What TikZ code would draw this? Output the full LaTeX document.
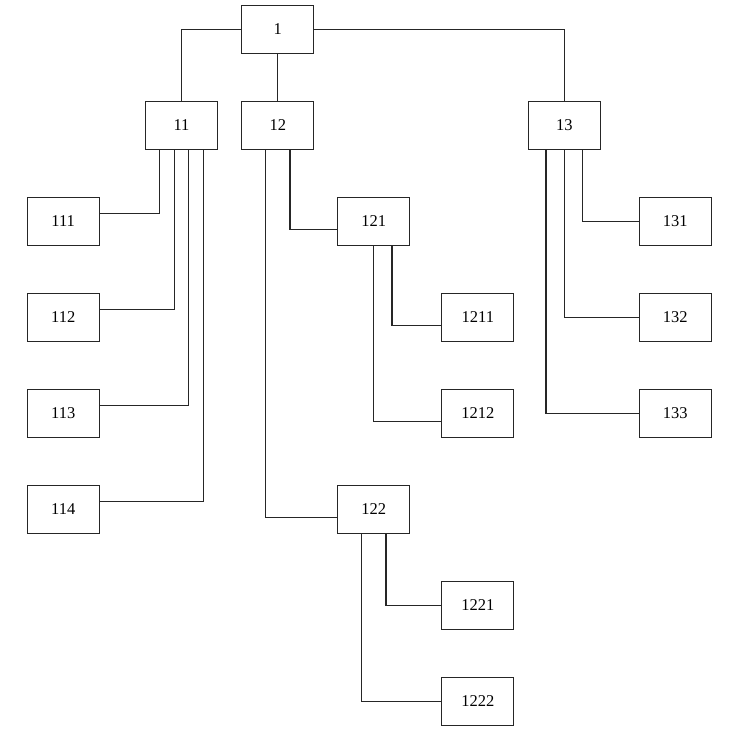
\documentclass[tikz,border=0pt]{standalone}
\usepackage{fontspec}
\setmainfont{Liberation Serif}
\usetikzlibrary{calc}
\begin{document}
\begin{tikzpicture}[x=1pt,y=-1pt,
  box/.style={draw=black!85,line width=1.3pt,fill=white,minimum width=72pt,minimum height=48pt,inner sep=0pt,font=\fontsize{16.5}{18}\selectfont},
  link/.style={draw=black!85,line width=1.3pt}]
\useasboundingbox (0,0) rectangle (737,752);
\node[box] (n1) at (277.8,29.5) {1};
\node[box] (n11) at (181.5,125.5) {11};
\node[box] (n12) at (277.8,125.5) {12};
\node[box] (n13) at (564.3,125.5) {13};
\node[box] (n111) at (63.2,221.5) {111};
\node[box] (n112) at (63.2,317.5) {112};
\node[box] (n113) at (63.2,413.5) {113};
\node[box] (n114) at (63.2,509.5) {114};
\node[box] (n121) at (373.8,221.5) {121};
\node[box] (n122) at (373.8,509.5) {122};
\node[box] (n1211) at (477.8,317.5) {1211};
\node[box] (n1212) at (477.8,413.5) {1212};
\node[box] (n1221) at (477.8,605.5) {1221};
\node[box] (n1222) at (477.8,701.5) {1222};
\node[box] (n131) at (675.2,221.5) {131};
\node[box] (n132) at (675.2,317.5) {132};
\node[box] (n133) at (675.2,413.5) {133};
% level 1
\draw[link] (n1.west) -| (n11.north);
\draw[link] (n1.south) -- (n12.north);
\draw[link] (n1.east) -| (n13.north);
% 11
\draw[link] ($(n11.south west)!0.2!(n11.south east)$) |- ($(n111.north east)!0.3333!(n111.south east)$);
\draw[link] ($(n11.south west)!0.4!(n11.south east)$) |- ($(n112.north east)!0.3333!(n112.south east)$);
\draw[link] ($(n11.south west)!0.6!(n11.south east)$) |- ($(n113.north east)!0.3333!(n113.south east)$);
\draw[link] ($(n11.south west)!0.8!(n11.south east)$) |- ($(n114.north east)!0.3333!(n114.south east)$);
% 12
\draw[link] ($(n12.south west)!0.3333!(n12.south east)$) |- ($(n122.north west)!0.6667!(n122.south west)$);
\draw[link] ($(n12.south west)!0.6667!(n12.south east)$) |- ($(n121.north west)!0.6667!(n121.south west)$);
% 121
\draw[link] (n121.south) |- ($(n1212.north west)!0.6667!(n1212.south west)$);
\draw[link] ($(n121.south west)!0.75!(n121.south east)$) |- ($(n1211.north west)!0.6667!(n1211.south west)$);
% 122
\draw[link] ($(n122.south west)!0.3333!(n122.south east)$) |- (n1222.west);
\draw[link] ($(n122.south west)!0.6667!(n122.south east)$) |- (n1221.west);
% 13
\draw[link] ($(n13.south west)!0.75!(n13.south east)$) |- (n131.west);
\draw[link] (n13.south) |- (n132.west);
\draw[link] ($(n13.south west)!0.25!(n13.south east)$) |- (n133.west);
\end{tikzpicture}
\end{document}
